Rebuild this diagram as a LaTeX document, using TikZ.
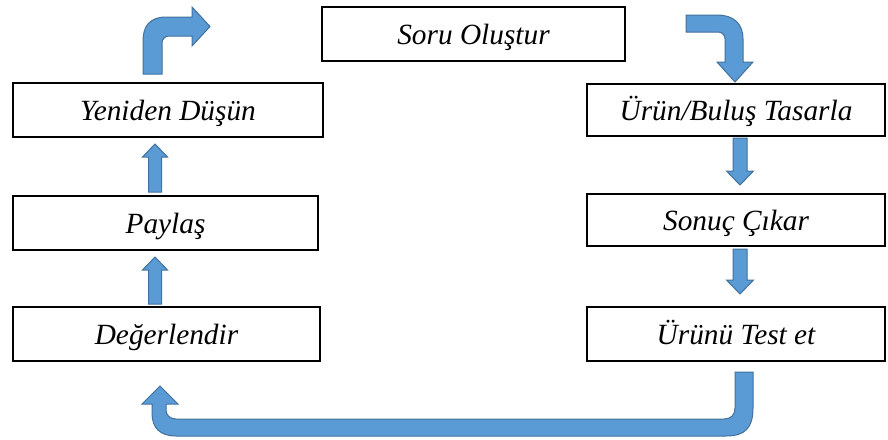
\documentclass[tikz,border=0pt]{standalone}
\usepackage{fontspec}
\setmainfont{Liberation Serif}
\definecolor{arrowfill}{RGB}{91,155,213}
\definecolor{arrowline}{RGB}{65,113,156}
\tikzset{every picture/.style={line width=0.75pt}}
\tikzset{
  stagebox/.style={draw, line width=1.5, inner sep=0pt, minimum height=40.5pt, text height=15.5pt, text depth=0pt, font=\fontsize{22}{26}\selectfont\itshape},
  fatarrow/.style={fill=arrowfill, draw=arrowline, line width=0.75}
}
\begin{document}
\begin{tikzpicture}[x=0.75pt,y=0.75pt,yscale=-1,xscale=1]
\useasboundingbox (0,0) rectangle (888,439);

% Stage boxes
\node[stagebox, minimum width=227.25pt] (soru) at (473.5,34) {Soru Oluştur};
\node[stagebox, minimum width=232.5pt] (yeniden) at (168,110) {Yeniden Düşün};
\node[stagebox, minimum width=228.75pt] (paylas) at (165.5,223) {Paylaş};
\node[stagebox, minimum width=230.25pt] (degerlendir) at (166.5,334) {Değerlendir};
\node[stagebox, minimum width=223.5pt, minimum height=39pt] (tasarla) at (736,110) {Ürün/Buluş Tasarla};
\node[stagebox, minimum width=223.5pt, minimum height=39pt] (sonuc) at (736,220) {Sonuç Çıkar};
\node[stagebox, minimum width=223.5pt] (test) at (736,334) {Ürünü Test et};

% Bent arrow: Soru Olustur -> Urun/Bulus Tasarla
\begin{scope}[shift={(tasarla.north)}]
\draw[fatarrow] (-50,-68) -- (-19,-68) .. controls (-3,-68) and (7,-60) .. (7,-44) -- (7,-21) -- (17,-21) -- (-1,-1) -- (-19,-21) -- (-11,-21) -- (-11,-44) .. controls (-11,-48) and (-14,-51) .. (-18,-51) -- (-50,-51) -- cycle;
\end{scope}

% Down arrows on the right
\begin{scope}[shift={(tasarla.south)}]
\draw[fatarrow] (-3,1) -- (11,1) -- (11,34) -- (17.5,34) -- (4,48) -- (-9.5,34) -- (-3,34) -- cycle;
\end{scope}
\begin{scope}[shift={(sonuc.south)}]
\draw[fatarrow] (-3,2) -- (11,2) -- (11,33) -- (17.5,33) -- (4,47) -- (-9.5,33) -- (-3,33) -- cycle;
\end{scope}

% U arrow: Urunu Test et -> Degerlendir
\begin{scope}[shift={(test.south)}]
\draw[fatarrow] (-1,10) -- (-1,46) .. controls (-1,53) and (-5,57) .. (-12,57) -- (-560,57) .. controls (-566,57) and (-570,53) .. (-570,48) -- (-570,42) -- (-558,42) -- (-576,24) -- (-594,42) -- (-584,42) -- (-584,51) .. controls (-584,66) and (-576,74) .. (-560,74) -- (-10,74) .. controls (9,74) and (17,66) .. (17,46) -- (17,10) -- cycle;
\end{scope}

% Up arrows on the left
\begin{scope}[shift={(degerlendir.north)}]
\draw[fatarrow] (-18,-2) -- (-18,-36) -- (-24,-36) -- (-11.5,-49) -- (1,-36) -- (-5,-36) -- (-5,-2) -- cycle;
\end{scope}
\begin{scope}[shift={(paylas.north)}]
\draw[fatarrow] (-17,-3) -- (-17,-38) -- (-23,-38) -- (-10.5,-51) -- (2,-38) -- (-4,-38) -- (-4,-3) -- cycle;
\end{scope}

% Bent arrow above Yeniden Dusun
\begin{scope}[shift={(yeniden.north)}]
\draw[fatarrow] (-25,-8) -- (-25,-41) .. controls (-25,-56) and (-18,-65) .. (-2,-65) -- (24,-65) -- (24,-75) -- (42,-55.5) -- (24,-36) -- (24,-46) -- (1,-46) .. controls (-3,-46) and (-6,-43) .. (-6,-39) -- (-6,-8) -- cycle;
\end{scope}

\end{tikzpicture}
\end{document}
